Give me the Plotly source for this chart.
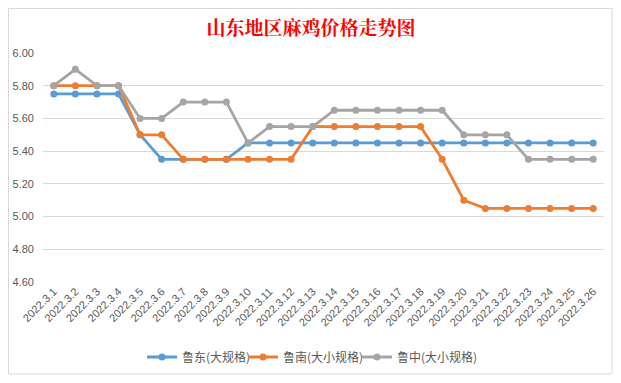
import plotly.graph_objects as go

dates = [f"2022.3.{d}" for d in range(1, 27)]
ludong = [5.75, 5.75, 5.75, 5.75, 5.50, 5.35, 5.35, 5.35, 5.35, 5.45, 5.45, 5.45, 5.45,
          5.45, 5.45, 5.45, 5.45, 5.45, 5.45, 5.45, 5.45, 5.45, 5.45, 5.45, 5.45, 5.45]
lunan = [5.80, 5.80, 5.80, 5.80, 5.50, 5.50, 5.35, 5.35, 5.35, 5.35, 5.35, 5.35, 5.55,
         5.55, 5.55, 5.55, 5.55, 5.55, 5.35, 5.10, 5.05, 5.05, 5.05, 5.05, 5.05, 5.05]
luzhong = [5.80, 5.90, 5.80, 5.80, 5.60, 5.60, 5.70, 5.70, 5.70, 5.45, 5.55, 5.55, 5.55,
           5.65, 5.65, 5.65, 5.65, 5.65, 5.65, 5.50, 5.50, 5.50, 5.35, 5.35, 5.35, 5.35]
series_names = ["鲁东(大规格)", "鲁南(大小规格)", "鲁中(大小规格)"]
colors = ["#5B9BD5", "#ED7D31", "#A5A5A5"]

# page body has an 8px margin; figure sized to fit the window without scrollbars
W, H, OFF = 605, 367, 8
plot_l, plot_r, plot_t, plot_b = 43 - OFF, 604 - OFF, 53 - OFF, 282 - OFF
pw, ph = plot_r - plot_l, plot_b - plot_t

legend_ids = ["legend", "legend2", "legend3"]
legend_px = [142, 243, 357]  # left edge of each legend entry (page px)

fig = go.Figure()
for name, vals, c, lid in zip(series_names, [ludong, lunan, luzhong], colors, legend_ids):
    fig.add_trace(go.Scatter(
        x=dates, y=vals, name=name, mode="lines+markers",
        line=dict(color=c, width=2.8),
        marker=dict(color=c, size=7),
        legend=lid,
    ))

legend_style = dict(orientation="h", xanchor="left", yanchor="middle",
                    y=(plot_b - (357 - OFF)) / ph,
                    font=dict(family="Noto Sans CJK SC", size=12, color="#595959"),
                    itemwidth=30, bgcolor="rgba(0,0,0,0)")

fig.update_layout(
    width=W, height=H,
    margin=dict(l=plot_l, r=W - plot_r, t=plot_t, b=H - plot_b, autoexpand=False),
    paper_bgcolor="white", plot_bgcolor="white",
    font=dict(family="Liberation Sans, Noto Sans CJK SC", size=11, color="#595959"),
    title=dict(text="<b>山东地区麻鸡价格走势图</b>", x=(311 - OFF) / W, xanchor="center",
               y=1 - (28 - OFF) / H, yanchor="middle",
               font=dict(family="Noto Serif CJK SC, Noto Sans CJK SC", size=19, color="#FF0000")),
    showlegend=True,
    xaxis=dict(type="category", range=[-0.5, len(dates) - 0.5], tickangle=-45,
               showgrid=False, showline=False,
               automargin=False, ticks="", tickfont=dict(size=11, color="#595959")),
    yaxis=dict(range=[4.6, 6.0], dtick=0.2, tickformat=".2f", showgrid=True,
               gridcolor="#D9D9D9", gridwidth=1, zeroline=False, showline=False,
               automargin=False, ticks="", ticklabelstandoff=8,
               tickfont=dict(size=11, color="#595959")),
)
for lid, px in zip(legend_ids, legend_px):
    fig.update_layout({lid: dict(legend_style, x=(px - OFF - plot_l) / pw)})

# chart frame
fig.add_shape(type="rect", xref="paper", yref="paper",
              x0=(0.5 - plot_l) / pw, x1=(W - 1 - plot_l) / pw,
              y0=(plot_b - (H - 1)) / ph, y1=(plot_b - 0.5) / ph,
              line=dict(color="#D9D9D9", width=1), fillcolor="rgba(0,0,0,0)", layer="below")

fig.write_html("out.html")
